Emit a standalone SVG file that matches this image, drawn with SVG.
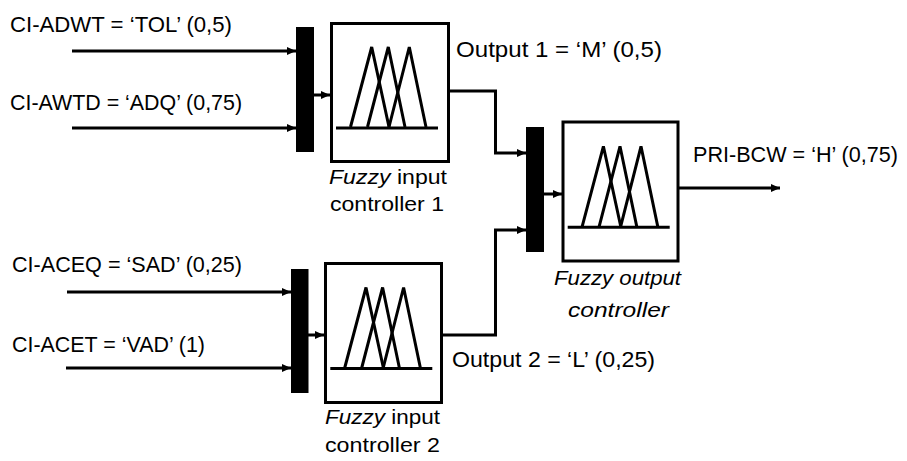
<svg xmlns="http://www.w3.org/2000/svg" xmlns:xlink="http://www.w3.org/1999/xlink" width="907" height="461" viewBox="0 0 907 461">
<style>
.box{fill:#fff;stroke:#000;stroke-width:3}
.bar{fill:#000}
.mf{fill:none;stroke:#000;stroke-width:3}
.con{fill:none;stroke:#000;stroke-width:3}
.lbl{font-family:"Liberation Sans",Arial,sans-serif;font-size:22px;fill:#000}
.cap{font-family:"Liberation Sans",Arial,sans-serif;font-size:21px;fill:#000}
.it{font-style:italic}
</style>
<defs>
<marker id="arr" markerUnits="userSpaceOnUse" markerWidth="9" markerHeight="8" refX="9" refY="4" orient="auto">
<path d="M0,0 L9,4 L0,8 z" fill="#000"/>
</marker>
<g id="fz">
<path class="mf" d="M6,106 L108,106"/>
<path class="mf" d="M20.5,105 L41.7,25 L59,105"/>
<path class="mf" d="M37.5,105 L58.3,25 L75,105"/>
<path class="mf" d="M59,105 L79.3,25 L96,105"/>
</g>
</defs>
<rect width="907" height="461" fill="#fff"/>
<g id="connectors">
<path class="con" d="M72,51 L296,51" marker-end="url(#arr)"/>
<path class="con" d="M72,128 L296,128" marker-end="url(#arr)"/>
<path class="con" d="M314,95 L330,95" marker-end="url(#arr)"/>
<path class="con" d="M67,292 L291,292" marker-end="url(#arr)"/>
<path class="con" d="M66,368 L291,368" marker-end="url(#arr)"/>
<path class="con" d="M308,335 L324,335" marker-end="url(#arr)"/>
<path class="con" d="M449,91 L495.5,91 L495.5,153 L526,153" marker-end="url(#arr)"/>
<path class="con" d="M442,335 L495.5,335 L495.5,230 L526,230" marker-end="url(#arr)"/>
<path class="con" d="M544,194 L562,194" marker-end="url(#arr)"/>
<path class="con" d="M678,188 L780,188" marker-end="url(#arr)"/>
</g>
<g id="in-labels">
<text class="lbl" x="10" y="32" textLength="222" lengthAdjust="spacingAndGlyphs">CI-ADWT = ‘TOL’ (0,5)</text>
<text class="lbl" x="10" y="110" textLength="232" lengthAdjust="spacingAndGlyphs">CI-AWTD = ‘ADQ’ (0,75)</text>
<text class="lbl" x="12" y="272" textLength="230" lengthAdjust="spacingAndGlyphs">CI-ACEQ = ‘SAD’ (0,25)</text>
<text class="lbl" x="12" y="352" textLength="193" lengthAdjust="spacingAndGlyphs">CI-ACET = ‘VAD’ (1)</text>
</g>
<g id="mux1"><rect class="bar" x="296" y="27" width="18" height="125"/></g>
<g id="mux2"><rect class="bar" x="291" y="269" width="17.5" height="124"/></g>
<g id="mux3"><rect class="bar" x="526" y="127" width="18" height="125"/></g>
<g id="fic1">
<rect class="box" x="331.5" y="23.5" width="117" height="138"/>
<use xlink:href="#fz" transform="translate(330,22)"/>
<text class="cap" x="329" y="184" textLength="118" lengthAdjust="spacingAndGlyphs"><tspan class="it">Fuzzy</tspan> input</text>
<text class="cap" x="330" y="211" textLength="114" lengthAdjust="spacingAndGlyphs">controller 1</text>
</g>
<g id="fic2">
<rect class="box" x="325.5" y="263.5" width="116" height="139"/>
<use xlink:href="#fz" transform="translate(324.3,262.5)"/>
<text class="cap" x="325" y="424" textLength="115" lengthAdjust="spacingAndGlyphs"><tspan class="it">Fuzzy</tspan> input</text>
<text class="cap" x="325" y="452" textLength="115" lengthAdjust="spacingAndGlyphs">controller 2</text>
</g>
<g id="foc">
<rect class="box" x="563" y="122" width="115" height="139"/>
<use xlink:href="#fz" transform="translate(561.7,121.3)"/>
<text class="cap it" x="554" y="285" textLength="127" lengthAdjust="spacingAndGlyphs">Fuzzy output</text>
<text class="cap it" x="568" y="317" textLength="101" lengthAdjust="spacingAndGlyphs">controller</text>
</g>
<g id="out-labels">
<text class="lbl" x="456" y="57" textLength="206" lengthAdjust="spacingAndGlyphs">Output 1 = ‘M’ (0,5)</text>
<text class="lbl" x="452" y="367" textLength="203" lengthAdjust="spacingAndGlyphs">Output 2 = ‘L’ (0,25)</text>
<text class="lbl" x="693" y="162" textLength="205" lengthAdjust="spacingAndGlyphs">PRI-BCW = ‘H’ (0,75)</text>
</g>
</svg>
